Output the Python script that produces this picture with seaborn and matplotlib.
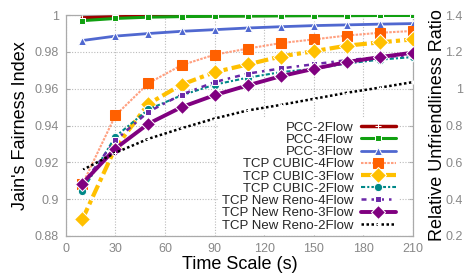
import matplotlib
matplotlib.use("Agg")
import matplotlib.pyplot as plt
import seaborn as sns
import numpy as np

time_scale = [10, 30, 50, 70, 90, 110, 130, 150, 170, 190, 210]

pcc_2flow = [0.9985, 0.9990, 0.9994, 0.9996, 0.9997, 0.9998, 0.9999, 0.9999, 0.9999, 1.0, 1.0]
pcc_4flow = [0.9970, 0.9982, 0.9989, 0.9992, 0.9994, 0.9995, 0.9996, 0.9997, 0.9997, 0.9998, 0.9998]
pcc_3flow = [0.9862, 0.9886, 0.9900, 0.9912, 0.9921, 0.9930, 0.9937, 0.9943, 0.9947, 0.9951, 0.9954]
cubic_4flow = [0.9080, 0.9455, 0.9630, 0.9728, 0.9785, 0.9818, 0.9848, 0.9868, 0.9889, 0.9904, 0.9914]
cubic_3flow = [0.8890, 0.9280, 0.9518, 0.9622, 0.9690, 0.9732, 0.9775, 0.9804, 0.9834, 0.9852, 0.9868]
cubic_2flow = [0.9045, 0.9340, 0.9488, 0.9564, 0.9622, 0.9660, 0.9690, 0.9708, 0.9737, 0.9758, 0.9772]
reno_4flow = [0.9080, 0.9320, 0.9475, 0.9568, 0.9636, 0.9682, 0.9710, 0.9733, 0.9755, 0.9772, 0.9782]
reno_3flow = [0.9085, 0.9275, 0.9410, 0.9500, 0.9565, 0.9618, 0.9668, 0.9708, 0.9745, 0.9772, 0.9796]
reno_2flow = [0.9158, 0.9252, 0.9328, 0.9385, 0.9438, 0.9482, 0.9512, 0.9545, 0.9578, 0.9606, 0.9636]

labels = ["PCC-2Flow", "PCC-4Flow", "PCC-3Flow", "TCP CUBIC-4Flow", "TCP CUBIC-3Flow",
          "TCP CUBIC-2Flow", "TCP New Reno-4Flow", "TCP New Reno-3Flow", "TCP New Reno-2Flow"]
series = [pcc_2flow, pcc_4flow, pcc_3flow, cubic_4flow, cubic_3flow,
          cubic_2flow, reno_4flow, reno_3flow, reno_2flow]

x_ticks = [0, 30, 60, 90, 120, 150, 180, 210]
y_ticks = [0.88, 0.9, 0.92, 0.94, 0.96, 0.98, 1]
y_tick_labels = ["0.88", "0.9", "0.92", "0.94", "0.96", "0.98", "1"]
y2_ticks = [0.2, 0.4, 0.6, 0.8, 1, 1.2, 1.4]
y2_tick_labels = ["0.2", "0.4", "0.6", "0.8", "1", "1.2", "1.4"]

styles = [
    dict(color="#a00000", marker="+", markersize=4, linewidth=2.5, linestyle="-"),
    dict(color="#10a010", marker="s", markersize=4, linewidth=2.2, linestyle="-"),
    dict(color="#5068d0", marker="^", markersize=6, linewidth=2.0, linestyle="-"),
    dict(color="#ffa080", marker="s", markersize=7, markerfacecolor="#ff6000", markeredgecolor="#ff6000",
         linewidth=1.5, linestyle=(0, (1.2, 0.6))),
    dict(color="#ffc000", marker="D", markersize=8, linewidth=3.0, linestyle=(0, (3, 1, 1, 1))),
    dict(color="#008888", marker="o", markersize=6, linewidth=1.5, linestyle=(0, (2, 1, 1, 1))),
    dict(color="#6a28a8", marker="s", markersize=5, linewidth=1.8, linestyle=(0, (2, 2, 1, 2))),
    dict(color="#800080", marker="D", markersize=7, linewidth=2.8, linestyle="-"),
    dict(color="#000000", marker="+", markersize=3, linewidth=1.8, linestyle=(0, (1, 1))),
]

sns.set_style("white")
plt.rcParams["font.family"] = ["Liberation Sans", "DejaVu Sans"]

fig = plt.figure(figsize=(4.67, 2.75), dpi=100)
ax = fig.add_axes([0.141, 0.142, 0.743, 0.803])

for lab, vals, st in zip(labels, series, styles):
    sns.lineplot(x=time_scale, y=vals, ax=ax, label=lab, zorder=3, **st)

grey = "#888888"
ax.set_xlim(0, 210)
ax.set_ylim(0.88, 1.0)
ax.set_xticks(x_ticks)
ax.set_xticklabels([str(v) for v in x_ticks])
ax.set_yticks(y_ticks)
ax.set_yticklabels(y_tick_labels)
ax.set_axisbelow(True)
ax.grid(True, color="#bbbbbb", linestyle=(0, (1, 1.5)), linewidth=0.8, zorder=0.5)
ax.tick_params(axis="both", colors="#aaaaaa", labelsize=9, length=3, direction="in",
               labelcolor=grey, pad=5)
for sp in ax.spines.values():
    sp.set_color("#aaaaaa")
    sp.set_linewidth(0.9)
    sp.set_linestyle((0, (1.5, 1)))
ax.set_xlabel("Time Scale (s)", fontsize=13, color="black", labelpad=1)
ax.set_ylabel("Jain's Fairness Index", fontsize=13, color="black", labelpad=4)

handles, lbls = ax.get_legend_handles_labels()
leg = ax.legend(handles, lbls, loc="lower right", markerfirst=False, frameon=True,
                fontsize=9.5, labelspacing=0.0, handlelength=2.6, handletextpad=0.6,
                bbox_to_anchor=(0.96, 0.005), borderaxespad=0.0, borderpad=0.25,
                fancybox=False, framealpha=1)
leg.get_frame().set_edgecolor("white")
leg.get_frame().set_linewidth(0)
leg.set_zorder(1)

ax2 = ax.twinx()
ax2.set_ylim(0.2, 1.4)
ax2.set_yticks(y2_ticks)
ax2.set_yticklabels(y2_tick_labels, ha="right")
ax2.tick_params(axis="y", colors="#aaaaaa", labelsize=9, length=3, direction="in",
                labelcolor=grey, pad=36)
for sp in ax2.spines.values():
    sp.set_visible(False)
ax2.set_ylabel("Relative Unfriendliness Ratio", fontsize=13, color="black")
ax2.yaxis.set_label_coords(1.047, 0.5)
ax2.set_zorder(ax.get_zorder() - 1)
ax.patch.set_visible(False)

fig.savefig("out.png", dpi=100)
